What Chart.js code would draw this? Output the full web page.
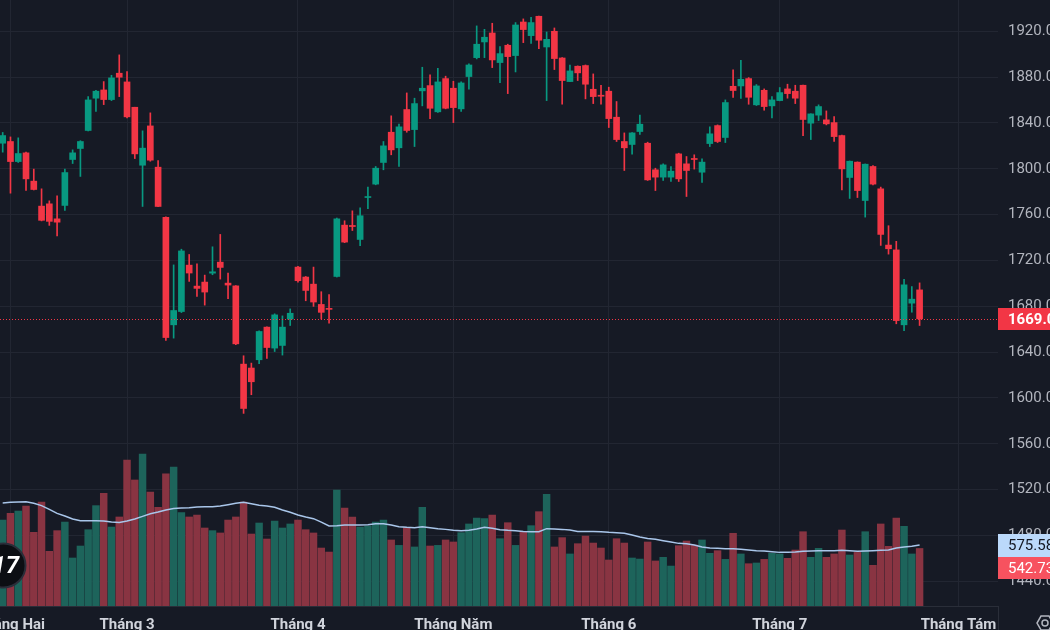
<!DOCTYPE html>
<html>
<head>
<meta charset="utf-8">
<script src="https://cdn.jsdelivr.net/npm/chart.js@4.4.1/dist/chart.umd.min.js"></script>
<style>
  html, body { margin: 0; padding: 0; background: #161a25; overflow: hidden; }
  canvas { display: block; }
</style>
</head>
<body>
<canvas id="priceChart" width="1050" height="630"></canvas>
<script>
// daily candles, index 0 = last session of January
const opens = [1822.3, 1823.8, 1806.3, 1813.9, 1789.2, 1767.4, 1769.4, 1756.3, 1768.0, 1808.1,
  1817.7, 1833.4, 1861.6, 1868.8, 1860.4, 1883.4, 1875.8, 1853.7, 1803.1, 1837.4,
  1801.4, 1757.6, 1663.8, 1675.4, 1715.9, 1697.6, 1701.1, 1708.9, 1718.5, 1700.2,
  1697.8, 1629.5, 1626.1, 1633.3, 1661.8, 1643.5, 1645.8, 1668.8, 1714.2, 1705.5,
  1699.3, 1681.6, 1677.8, 1706.0, 1750.8, 1750.5, 1738.3, 1774.9, 1786.6, 1805.5,
  1831.9, 1818.3, 1851.7, 1834.2, 1868.0, 1872.6, 1849.7, 1878.7, 1870.3, 1852.3,
  1880.5, 1897.0, 1910.7, 1918.5, 1892.7, 1907.8, 1898.8, 1928.1, 1916.2, 1933.1,
  1906.3, 1920.0, 1896.7, 1876.1, 1889.5, 1890.1, 1869.4, 1864.2, 1867.7, 1845.0,
  1823.8, 1821.2, 1832.5, 1822.3, 1799.1, 1792.7, 1792.7, 1813.0, 1804.3, 1808.7,
  1797.0, 1822.0, 1837.7, 1827.3, 1872.0, 1872.3, 1878.7, 1855.8, 1868.5, 1854.9,
  1859.5, 1869.7, 1867.7, 1872.9, 1839.8, 1846.8, 1842.7, 1840.3, 1829.0, 1792.4,
  1805.8, 1772.3, 1802.0, 1782.5, 1733.4, 1729.2, 1663.8, 1682.7, 1694.3];
const highs = [1831.7, 1827.8, 1827.0, 1814.5, 1799.7, 1782.5, 1772.0, 1776.4, 1799.7, 1816.5,
  1824.5, 1863.0, 1868.5, 1876.1, 1881.6, 1899.4, 1884.8, 1853.7, 1833.1, 1848.8,
  1807.2, 1758.0, 1716.1, 1729.8, 1725.2, 1717.1, 1707.2, 1731.9, 1742.7, 1708.9,
  1698.0, 1636.8, 1630.4, 1658.5, 1662.0, 1673.4, 1671.6, 1677.7, 1714.8, 1706.0,
  1714.2, 1692.7, 1690.1, 1757.0, 1754.6, 1763.3, 1766.0, 1784.0, 1802.0, 1823.8,
  1846.2, 1838.9, 1866.2, 1861.6, 1888.6, 1881.9, 1887.7, 1880.8, 1876.4, 1875.8,
  1891.5, 1924.7, 1921.7, 1927.0, 1906.6, 1908.7, 1927.6, 1930.8, 1932.2, 1933.3,
  1919.4, 1922.9, 1897.0, 1890.6, 1889.8, 1890.6, 1882.8, 1872.9, 1871.2, 1858.7,
  1831.3, 1831.5, 1846.8, 1823.2, 1800.5, 1804.3, 1802.0, 1813.6, 1810.7, 1812.2,
  1808.7, 1836.6, 1838.3, 1860.1, 1886.3, 1894.7, 1879.6, 1873.5, 1869.7, 1863.0,
  1870.9, 1873.8, 1872.9, 1873.0, 1848.0, 1855.8, 1850.5, 1845.6, 1829.3, 1806.8,
  1806.0, 1804.2, 1802.8, 1784.0, 1750.3, 1736.7, 1703.6, 1697.2, 1700.4];
const lows = [1814.5, 1778.7, 1805.5, 1781.1, 1781.5, 1754.5, 1750.6, 1741.5, 1763.6, 1804.6,
  1793.3, 1833.0, 1850.0, 1856.0, 1859.5, 1863.0, 1844.4, 1808.9, 1767.1, 1806.6,
  1767.0, 1650.1, 1652.2, 1674.5, 1701.7, 1688.6, 1681.0, 1707.5, 1703.7, 1686.6,
  1646.5, 1586.5, 1602.8, 1629.8, 1634.4, 1640.5, 1637.4, 1663.2, 1701.1, 1684.8,
  1679.9, 1668.8, 1665.3, 1705.5, 1735.5, 1746.1, 1732.8, 1765.1, 1786.0, 1799.1,
  1812.2, 1802.0, 1831.9, 1819.4, 1854.9, 1843.8, 1849.1, 1852.3, 1840.3, 1850.0,
  1869.4, 1895.9, 1897.0, 1888.3, 1875.2, 1865.6, 1884.5, 1910.1, 1909.5, 1904.9,
  1859.5, 1886.6, 1856.3, 1876.0, 1877.0, 1861.0, 1856.9, 1856.3, 1836.0, 1823.8,
  1798.5, 1812.7, 1829.9, 1789.8, 1781.0, 1789.8, 1788.9, 1788.9, 1775.8, 1799.7,
  1788.0, 1819.4, 1822.9, 1822.9, 1862.2, 1861.3, 1856.3, 1855.2, 1851.1, 1844.4,
  1859.3, 1861.6, 1856.9, 1829.0, 1825.5, 1842.1, 1838.3, 1823.8, 1781.6, 1774.1,
  1774.9, 1757.8, 1786.0, 1733.1, 1725.5, 1664.7, 1658.8, 1674.8, 1663.2];
const closes = [1829.0, 1806.3, 1813.3, 1791.2, 1781.9, 1755.0, 1754.1, 1753.4, 1796.7, 1813.9,
  1823.8, 1860.1, 1867.7, 1860.4, 1879.3, 1879.9, 1845.3, 1813.0, 1818.0, 1807.5,
  1767.1, 1652.7, 1676.3, 1728.3, 1709.0, 1695.6, 1692.4, 1710.1, 1713.9, 1698.5,
  1647.2, 1590.8, 1614.1, 1658.0, 1644.0, 1672.5, 1661.8, 1673.9, 1702.3, 1693.8,
  1683.7, 1674.7, 1677.3, 1756.3, 1736.0, 1749.6, 1759.0, 1775.5, 1800.5, 1820.0,
  1816.5, 1836.6, 1833.4, 1856.9, 1870.3, 1852.8, 1875.8, 1852.8, 1853.4, 1874.9,
  1890.6, 1908.7, 1914.8, 1895.0, 1900.5, 1897.9, 1925.5, 1921.5, 1927.6, 1912.2,
  1913.0, 1896.2, 1877.0, 1885.4, 1883.7, 1873.8, 1863.0, 1863.3, 1843.8, 1825.5,
  1818.3, 1831.3, 1838.9, 1790.3, 1792.7, 1803.4, 1797.9, 1791.2, 1798.5, 1808.1,
  1805.8, 1830.5, 1823.8, 1857.8, 1868.3, 1878.1, 1862.4, 1872.3, 1854.3, 1860.1,
  1866.5, 1865.6, 1861.6, 1843.0, 1847.9, 1854.3, 1839.2, 1828.1, 1799.9, 1806.6,
  1781.0, 1804.0, 1786.6, 1742.7, 1730.2, 1667.5, 1698.7, 1686.2, 1669.0];
const volumes = [811, 874, 896, 943, 695, 981, 516, 711, 792, 453,
  566, 720, 947, 1063, 745, 840, 1377, 1189, 1434, 1075,
  931, 1248, 1311, 881, 840, 858, 736, 711, 689, 811,
  840, 981, 679, 783, 632, 802, 736, 774, 811, 720,
  689, 547, 509, 1094, 925, 840, 745, 755, 792, 811,
  623, 572, 739, 557, 931, 566, 572, 623, 604, 692,
  774, 830, 824, 858, 635, 786, 572, 698, 758, 890,
  1053, 557, 645, 491, 588, 660, 594, 547, 434, 635,
  594, 453, 443, 604, 425, 459, 377, 569, 613, 575,
  623, 497, 522, 440, 686, 491, 399, 406, 440, 497,
  491, 450, 528, 701, 459, 544, 459, 491, 717, 481,
  506, 701, 384, 774, 563, 830, 752, 491, 542.73];
const volumeMA = [972, 978, 981, 984, 969, 947, 912, 874, 849, 821,
  805, 805, 805, 802, 792, 789, 802, 821, 846, 871,
  887, 906, 921, 925, 928, 934, 937, 937, 943, 956,
  969, 978, 965, 950, 943, 931, 906, 884, 858, 840,
  824, 792, 755, 758, 764, 764, 764, 767, 777, 777,
  764, 748, 742, 739, 748, 739, 730, 723, 714, 711,
  714, 726, 742, 733, 720, 714, 711, 704, 701, 701,
  730, 726, 723, 717, 704, 704, 704, 701, 695, 692,
  686, 670, 651, 638, 629, 616, 604, 591, 588, 575,
  557, 547, 544, 541, 541, 535, 528, 522, 519, 513,
  506, 506, 509, 516, 519, 522, 522, 522, 525, 522,
  516, 519, 522, 525, 528, 547, 557, 563, 575.58];

// month boundaries (session index) and their labels
const monthTicks = [1, 16, 38, 58, 78, 100, 123];
const monthLabels = ['Tháng Hai', 'Tháng 3', 'Tháng 4', 'Tháng Năm', 'Tháng 6', 'Tháng 7', 'Tháng Tám'];
const priceTicks = [1440, 1480, 1520, 1560, 1600, 1640, 1680, 1720, 1760, 1800, 1840, 1880, 1920];

const upColor = '#089981';
const downColor = '#f23645';
const upVolColor = '#1d645b';
const downVolColor = '#893442';
const gridColor = '#222632';
const bgColor = '#161a25';
const fontFamily = 'Roboto, "Noto Sans", sans-serif';

const isUp = closes.map((c, i) => c >= opens[i]);

const backgroundPlugin = {
    id: 'background',
    beforeDraw(chart) {
        const ctx = chart.ctx;
        ctx.save();
        ctx.fillStyle = bgColor;
        ctx.fillRect(0, 0, chart.width, chart.height);
        ctx.restore();
    }
};

function drawBox(ctx, x, yMid, h, bg, fg, text, bold) {
    ctx.fillStyle = bg;
    ctx.fillRect(x, Math.round(yMid - h / 2), 60, h);
    ctx.fillStyle = fg;
    ctx.font = (bold ? 'bold ' : '') + '15px ' + fontFamily;
    ctx.textAlign = 'left';
    ctx.textBaseline = 'middle';
    ctx.fillText(text, x + 10, yMid + 1);
}

const overlayPlugin = {
    id: 'overlay',
    afterDraw(chart) {
        const ctx = chart.ctx;
        const area = chart.chartArea;
        const xScale = chart.scales.x;
        const yScale = chart.scales.y;
        const volScale = chart.scales.vol;
        const last = closes.length - 1;
        ctx.save();

        // last price dotted line
        const lastY = Math.round(yScale.getPixelForValue(closes[last])) + 0.5;
        ctx.strokeStyle = downColor;
        ctx.lineWidth = 1;
        ctx.setLineDash([1, 2]);
        ctx.beginPath();
        ctx.moveTo(area.left, lastY);
        ctx.lineTo(area.right, lastY);
        ctx.stroke();
        ctx.setLineDash([]);

        // month labels on the time axis
        ctx.fillStyle = '#d1d4dc';
        ctx.font = 'bold 15px ' + fontFamily;
        ctx.textAlign = 'center';
        ctx.textBaseline = 'alphabetic';
        monthTicks.forEach((t, i) => {
            ctx.fillText(monthLabels[i], xScale.getPixelForValue(t), 629);
        });

        // separator at the corner of the two axes
        ctx.strokeStyle = '#2a2e39';
        ctx.beginPath();
        ctx.moveTo(area.right + 0.5, area.bottom);
        ctx.lineTo(area.right + 0.5, chart.height);
        ctx.stroke();

        // value boxes on the price scale
        drawBox(ctx, area.right, yScale.getPixelForValue(closes[last]) + 0.5, 22, downColor, '#ffffff', closes[last].toFixed(2), true);
        const maY = volScale.getPixelForValue(volumeMA[last]) + 0.5;
        drawBox(ctx, area.right, maY, 23, '#bbd9fb', '#131722', volumeMA[last].toFixed(2), false);
        drawBox(ctx, area.right, maY + 22.5, 22, '#f7525f', '#ffffff', volumes[last].toFixed(2), false);

        // logo badge
        ctx.beginPath();
        ctx.arc(3.5, 565.5, 22, 0, Math.PI * 2);
        ctx.fillStyle = '#0c0e13';
        ctx.fill();
        ctx.lineWidth = 2;
        ctx.strokeStyle = '#2a2e39';
        ctx.stroke();
        ctx.fillStyle = '#ffffff';
        ctx.font = 'italic bold 24px ' + fontFamily;
        ctx.textAlign = 'right';
        ctx.textBaseline = 'middle';
        ctx.fillText('17', 19, 567);

        // settings gear (partly off canvas)
        ctx.strokeStyle = '#b2b5be';
        ctx.lineWidth = 1.5;
        ctx.beginPath();
        for (let k = 0; k < 6; k++) {
            const a = Math.PI / 3 * k;
            const px = 1045 + 8 * Math.cos(a);
            const py = 623 + 8 * Math.sin(a);
            if (k === 0) ctx.moveTo(px, py); else ctx.lineTo(px, py);
        }
        ctx.closePath();
        ctx.stroke();
        ctx.beginPath();
        ctx.arc(1045, 623, 3, 0, Math.PI * 2);
        ctx.stroke();

        ctx.restore();
    }
};

const ctx = document.getElementById('priceChart').getContext('2d');
const priceChart = new Chart(ctx, {
    type: 'bar',
    data: {
        datasets: [
            {
                label: 'Body',
                data: opens.map((o, i) => ({ x: i, y: [o, closes[i]] })),
                backgroundColor: isUp.map(u => u ? upColor : downColor),
                barThickness: 6,
                minBarLength: 1,
                yAxisID: 'y',
                order: 0
            },
            {
                label: 'Wick',
                data: lows.map((l, i) => ({ x: i, y: [l, highs[i]] })),
                backgroundColor: isUp.map(u => u ? upColor : downColor),
                barThickness: 1,
                yAxisID: 'y',
                order: 1
            },
            {
                label: 'Volume MA',
                type: 'line',
                data: volumeMA.map((v, i) => ({ x: i, y: v })),
                borderColor: '#a9c6ea',
                borderWidth: 1.5,
                pointRadius: 0,
                tension: 0,
                yAxisID: 'vol',
                order: 2
            },
            {
                label: 'Volume',
                data: volumes.map((v, i) => ({ x: i, y: v })),
                backgroundColor: isUp.map(u => u ? upVolColor : downVolColor),
                barThickness: 6.8,
                yAxisID: 'vol',
                order: 3
            }
        ]
    },
    options: {
        responsive: false,
        animation: false,
        devicePixelRatio: 1,
        layout: { padding: 0 },
        datasets: { bar: { grouped: false } },
        plugins: {
            legend: { display: false },
            tooltip: { enabled: false }
        },
        scales: {
            x: {
                type: 'linear',
                position: 'bottom',
                offset: false,
                min: -0.3475,
                max: 128.09,
                afterBuildTicks: s => { s.ticks = monthTicks.map(v => ({ value: v })); },
                afterFit: s => { s.height = 24; s.paddingLeft = 0; s.paddingRight = 0; },
                ticks: { display: false },
                grid: { color: gridColor, drawTicks: false, offset: false },
                border: { display: true, color: '#2a2e39' }
            },
            y: {
                position: 'right',
                min: 1418.4,
                max: 1947.3,
                afterBuildTicks: s => { s.ticks = priceTicks.map(v => ({ value: v })); },
                afterFit: s => { s.width = 52; s.paddingTop = 0; s.paddingBottom = 0; },
                ticks: {
                    color: '#b2b5be',
                    padding: 10,
                    font: { size: 15, family: fontFamily },
                    callback: v => v.toFixed(2)
                },
                grid: { color: gridColor, drawTicks: false },
                border: { display: false }
            },
            vol: {
                display: false,
                position: 'right',
                min: 0,
                max: 5718
            }
        }
    },
    plugins: [backgroundPlugin, overlayPlugin]
});
</script>
</body>
</html>
